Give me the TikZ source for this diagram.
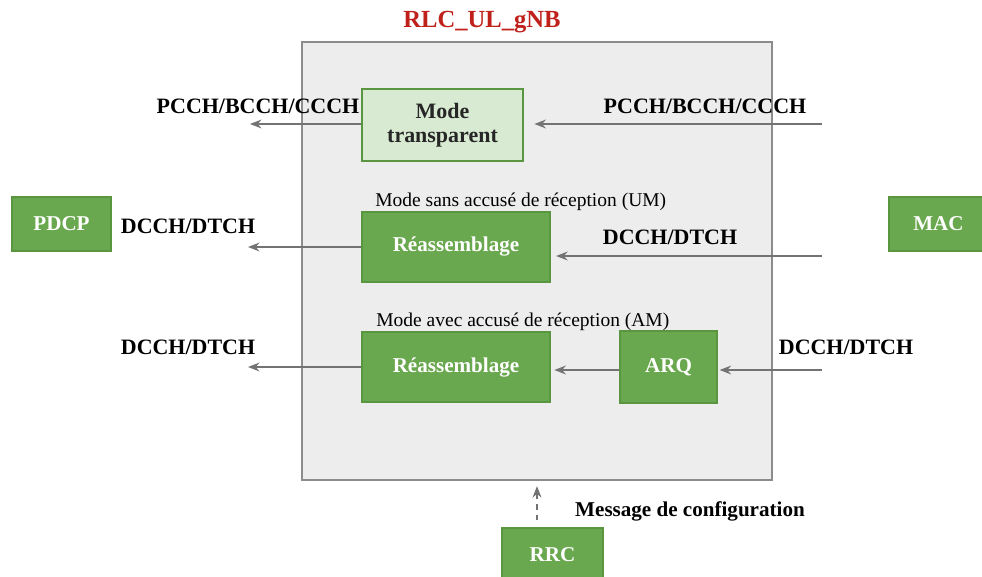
\documentclass[tikz,border=0pt]{standalone}
\usepackage{fontspec}
\setmainfont{Liberation Serif}
\usetikzlibrary{arrows.meta,positioning,calc}
\definecolor{rlcgreen}{HTML}{6AA84F}
\definecolor{rlcborder}{HTML}{5A9640}
\definecolor{rlclight}{HTML}{D9EAD3}
\definecolor{rlcred}{HTML}{C0201A}
\tikzset{
  chbox/.style={draw=rlcborder,line width=1pt,fill=rlcgreen,text=white,
    font=\fontsize{12}{14}\selectfont\bfseries,inner sep=0pt},
  chlabel/.style={font=\fontsize{12.5}{14}\selectfont\bfseries},
  modelabel/.style={font=\fontsize{11.1}{12}\selectfont,anchor=west,inner sep=0pt},
  flow/.style={-{Stealth[length=6.5pt,width=5pt]},draw=black!55,line width=1.1pt}
}
\begin{document}
\begin{tikzpicture}[x=0.02cm,y=-0.02cm]
\useasboundingbox (0,0) rectangle (982,577);
% RLC entity
\node[draw=black!45,line width=1pt,fill=black!7,minimum width=9.4cm,minimum height=8.76cm] (rlc) at (537,261) {};
\node[font=\fontsize{14}{16}\selectfont\bfseries,text=rlcred] (title) at (482,22) {RLC\_UL\_gNB};
% outer entities
\node[chbox,minimum width=1.98cm,minimum height=1.08cm] (pdcp) at (61.5,224) {PDCP};
\node[chbox,minimum width=1.98cm,minimum height=1.08cm] (mac) at (938.5,224) {MAC};
\node[chbox,minimum width=2.02cm,minimum height=1.08cm] (rrc) at (552.5,555) {RRC};
% transparent mode
\node[chbox,fill=rlclight,text=black!85,font=\fontsize{12.5}{13.6}\selectfont\bfseries,
  minimum width=3.22cm,minimum height=1.44cm,align=center] (tm) at (442.5,125) {Mode\\transparent};
\coordinate (tmL) at (250,124);
\coordinate (tmR) at (822,124);
\draw[flow] (tm.west |- tmL) -- (tmL);
\draw[flow,shorten >=6pt] (tmR) -- (tm.east |- tmR);
\node[chlabel] (tmLlab) at (258,106) {PCCH/BCCH/CCCH};
\node[chlabel] (tmRlab) at (705,106) {PCCH/BCCH/CCCH};
% unacknowledged mode
\node[modelabel] (umlab) at (375,202) {Mode sans accusé de réception (UM)};
\node[chbox,minimum width=3.76cm,minimum height=1.40cm] (um) at (456,247) {Réassemblage};
\coordinate (umL) at (248,247);
\coordinate (umR) at (822,256);
\draw[flow] (um.west) -- (umL);
\draw[flow,shorten >=3pt] (umR) -- (um.east |- umR);
\node[chlabel] (umLlab) at (188,226) {DCCH/DTCH};
\node[chlabel] (umRlab) at (670,237) {DCCH/DTCH};
% acknowledged mode
\node[modelabel] (amlab) at (376,322) {Mode avec accusé de réception (AM)};
\node[chbox,minimum width=3.76cm,minimum height=1.40cm] (am) at (456,367) {Réassemblage};
\node[chbox,minimum width=1.94cm,minimum height=1.44cm] (arq) at (668.5,367) {ARQ};
\coordinate (amL) at (248,367);
\coordinate (amR) at (822,370);
\draw[flow] (am.west) -- (amL);
\draw[flow,shorten >=2pt] (arq.west |- amR) -- (am.east |- amR);
\draw[flow,shorten >=1pt] (amR) -- (arq.east |- amR);
\node[chlabel] (amLlab) at (188,347) {DCCH/DTCH};
\node[chlabel] (amRlab) at (846,347) {DCCH/DTCH};
% configuration
\draw[flow,dashed,shorten <=4pt,shorten >=3pt] (rrc.north -| 537,0) -- (rlc.south -| 537,0);
\node[chlabel,font=\fontsize{12}{14}\selectfont\bfseries] (cfglab) at (690,511) {Message de configuration};
\end{tikzpicture}
\end{document}
